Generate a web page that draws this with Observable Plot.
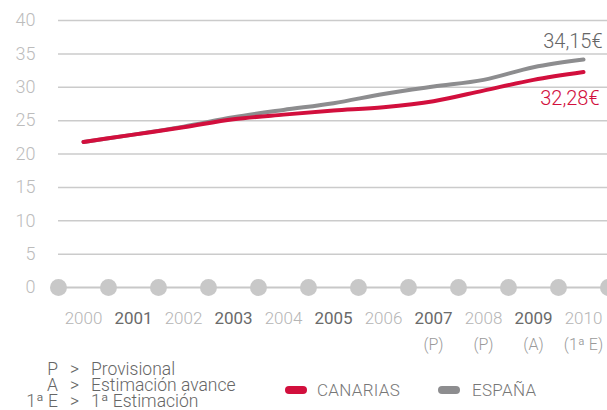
<!DOCTYPE html>
<html>
<head>
<meta charset="utf-8">
<script src="https://cdn.jsdelivr.net/npm/d3@7"></script>
<script src="https://cdn.jsdelivr.net/npm/@observablehq/plot@0.6"></script>
<style>
  html, body { margin: 0; padding: 0; background: #fff; }
  #wrap { position: relative; width: 607px; height: 410px; font-family: Roboto, "Liberation Sans", sans-serif; overflow: hidden; }
  #chart { position: absolute; left: 0; top: 0; }
  .key { position: absolute; left: 0; top: 361px; font-weight: 300; font-size: 17.5px; line-height: 16px; color: #666; border-collapse: collapse; }
  .key td { padding: 0; white-space: nowrap; }
  .key td.k { width: 58px; text-align: right; }
  .key td.g { width: 33px; text-align: center; }
  .sw { position: absolute; width: 22px; height: 8px; border-radius: 4px; top: 386px; }
  .lt { position: absolute; top: 381px; font-size: 17px; font-weight: 300; line-height: 18px; color: #777; letter-spacing: 0.3px; }
</style>
</head>
<body>
<div id="wrap">
  <div id="chart"></div>
</div>
<script>
const years = [2000, 2001, 2002, 2003, 2004, 2005, 2006, 2007, 2008, 2009, 2010];
const canarias = [21.8, 22.9, 24.0, 25.2, 25.9, 26.5, 27.0, 27.9, 29.5, 31.1, 32.28];
const espana = [21.8, 22.9, 24.1, 25.5, 26.6, 27.6, 29.0, 30.1, 31.1, 33.0, 34.15];
const notes = ["", "", "", "", "", "", "", "(P)", "(P)", "(A)", "(1ª E)"];
const yTicks = [0, 5, 10, 15, 20, 25, 30, 35, 40];
const seriesNames = ["CANARIAS", "ESPAÑA"];
const keyCodes = ["P", "A", "1ª E"];
const keyTexts = ["Provisional", "Estimación avance", "1ª Estimación"];

const RED = "#d20f3d";
const GRAY = "#8d8d8f";
const fmt = v => v.toFixed(2).replace(".", ",") + "€";

const rows = years.flatMap((year, i) => [
  {year, value: espana[i], serie: seriesNames[1]},
  {year, value: canarias[i], serie: seriesNames[0]}
]);
const edges = years.map(y => y - 0.5).concat([years[years.length - 1] + 0.5]);
const last = years.length - 1;

const H = 355;
const chart = Plot.plot({
  width: 607,
  height: H,
  marginTop: 20,
  marginBottom: H - 287,
  marginLeft: 58,
  marginRight: 0,
  x: {domain: [edges[0], edges[edges.length - 1]], range: [58, 608], axis: null},
  y: {domain: [0, 40], axis: null},
  style: {fontFamily: "Roboto, sans-serif", overflow: "visible", background: "transparent"},
  marks: [
    Plot.ruleY(yTicks.filter(t => t > 0), {stroke: "#cbcbcb", strokeWidth: 1.5}),
    Plot.text(yTicks, {y: d => d, frameAnchor: "left", dx: -23, textAnchor: "end", text: d => String(d), fill: "#bcbcbc", fontSize: 18, fontWeight: 300}),
    Plot.ruleY([0], {stroke: "#c8c8c8", strokeWidth: 2}),
    Plot.dot(edges, {x: d => d, y: edges.map(() => 0), r: 8.5, fill: "#c8c8c8", stroke: "none"}),
    Plot.line(rows.filter(d => d.serie === seriesNames[1]), {x: "year", y: "value", stroke: GRAY, strokeWidth: 4, curve: "monotone-x"}),
    Plot.line(rows.filter(d => d.serie === seriesNames[0]), {x: "year", y: "value", stroke: RED, strokeWidth: 4, curve: "monotone-x"}),
    Plot.text([espana[last]], {x: [years[last]], y: d => d, text: d => fmt(d), dx: 19, dy: -18, textAnchor: "end", fill: "#666", fontSize: 20, fontWeight: 300}),
    Plot.text([canarias[last]], {x: [years[last]], y: d => d, text: d => fmt(d), dx: 16, dy: 27, textAnchor: "end", fill: RED, fontSize: 20, fontWeight: 300}),
    Plot.text(years.filter(y => y % 2 === 0), {x: d => d, frameAnchor: "bottom", dy: 36, text: d => String(d), fill: "#b5b5b5", fontSize: 17, fontWeight: 300}),
    Plot.text(years.filter(y => y % 2 === 1), {x: d => d, frameAnchor: "bottom", dy: 36, text: d => String(d), fill: "#6a6a6a", fontSize: 17, fontWeight: 400}),
    Plot.text(years.map((y, i) => ({y, n: notes[i]})).filter(d => d.n), {x: "y", frameAnchor: "bottom", dy: 62, text: "n", fill: "#9a9a9a", fontSize: 16, fontWeight: 300, fontFamily: "'Liberation Sans Narrow', 'Roboto', sans-serif"})
  ]
});
const wrap = document.getElementById("wrap");
document.getElementById("chart").appendChild(chart);

// key table
const table = document.createElement("table");
table.className = "key";
keyCodes.forEach((c, i) => {
  const tr = document.createElement("tr");
  const a = document.createElement("td"); a.className = "k"; a.textContent = c;
  const b = document.createElement("td"); b.className = "g"; b.textContent = ">";
  const t = document.createElement("td"); t.textContent = keyTexts[i];
  tr.append(a, b, t);
  table.appendChild(tr);
});
wrap.appendChild(table);

// series legend
const legendItems = [
  {name: seriesNames[0], color: RED, sw: 285, tx: 317},
  {name: seriesNames[1], color: GRAY, sw: 438, tx: 472}
];
legendItems.forEach(it => {
  const s = document.createElement("div");
  s.className = "sw"; s.style.left = it.sw + "px"; s.style.background = it.color;
  const t = document.createElement("div");
  t.className = "lt"; t.style.left = it.tx + "px"; t.textContent = it.name;
  wrap.append(s, t);
});
</script>
</body>
</html>
